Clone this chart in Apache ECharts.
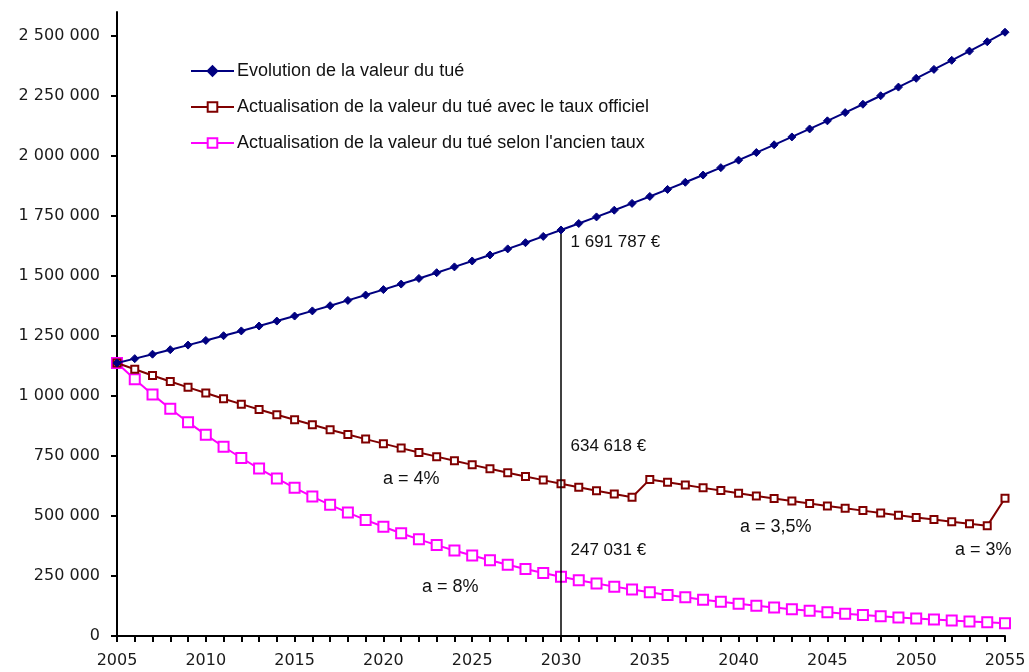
<!DOCTYPE html>
<html>
<head>
<meta charset="utf-8">
<script src="https://cdn.jsdelivr.net/npm/echarts@6/dist/echarts.min.js"></script>
<style>
  html, body { margin: 0; padding: 0; background: #fff; }
  #chart { width: 1029px; height: 672px; }
</style>
</head>
<body>
<div id="chart"></div>
<script>
// Years 2005 .. 2055
const years = [];
for (let y = 2005; y <= 2055; y++) years.push(y);

const xTickLabels = [2005, 2010, 2015, 2020, 2025, 2030, 2035, 2040, 2045, 2050, 2055];
const yTickValues = [0, 250000, 500000, 750000, 1000000, 1250000, 1500000, 1750000, 2000000, 2250000, 2500000];

const seriesNames = [
  'Evolution de la valeur du tué',
  'Actualisation de la valeur du tué avec le taux officiel',
  'Actualisation de la valeur du tué selon l\'ancien taux'
];

// Valeur du tué (€)
const valeurTue = [
  1137500, 1155700, 1174200, 1193000, 1212100, 1231500, 1251200, 1271200, 1291600, 1312200,
  1333200, 1354600, 1376200, 1398300, 1420600, 1443400, 1466400, 1489900, 1513800, 1538000,
  1562600, 1587600, 1613000, 1638800, 1665000, 1691787, 1718800, 1746200, 1774200, 1802600,
  1831400, 1860700, 1890500, 1920700, 1951500, 1982700, 2014400, 2046700, 2079400, 2112700,
  2146500, 2180800, 2215700, 2251100, 2287100, 2323700, 2360900, 2398700, 2437000, 2476000,
  2515700
];

// Valeur actualisée, taux officiel (4 %, puis 3,5 %, puis 3 %)
const actuOfficiel = [
  1137500, 1111300, 1085600, 1060600, 1036100, 1012200, 988800, 966000, 943800, 921900,
  900700, 879900, 859600, 839800, 820400, 801500, 782900, 764900, 747300, 730000,
  713100, 696700, 680600, 664900, 649500, 634618, 620000, 605600, 591700, 578000,
  652500, 640500, 628800, 617200, 605900, 594800, 583800, 573100, 562600, 552300,
  542100, 532200, 522400, 512800, 503400, 494200, 485100, 476200, 467400, 458900,
  573900
];

// Valeur actualisée, ancien taux (8 %)
const actuAncien = [
  1137500, 1070100, 1006700, 947000, 890900, 838100, 788500, 741700, 697800, 656400,
  617500, 581000, 546500, 514100, 483700, 455000, 428000, 402700, 378800, 356400,
  335300, 315400, 296700, 279100, 262600, 247031, 232400, 218600, 205700, 193500,
  182000, 171200, 161100, 151500, 142500, 134100, 126100, 118700, 111600, 105000,
  98800, 92900, 87400, 82300, 77400, 72800, 68500, 64400, 60600, 57000,
  53600
];

const markYear = 2030;
const rateNotes = [
  { text: 'a = 4%', x: 383, y: 480 },
  { text: 'a = 8%', x: 422, y: 588 },
  { text: 'a = 3,5%', x: 740, y: 528 },
  { text: 'a = 3%', x: 955, y: 551 }
];

const FONT = '"Liberation Sans", Arial, sans-serif';
const AXIS_FONT = '"DejaVu Sans", sans-serif';
const fmtNum = v => String(Math.round(v)).replace(/\B(?=(\d{3})+(?!\d))/g, ' ');
const pair = arr => years.map((y, i) => [y, arr[i]]);
const idx = years.indexOf(markYear);

function valueLabel(value, dy) {
  return {
    coord: [markYear, value],
    symbol: 'circle',
    symbolSize: 1,
    itemStyle: { color: 'transparent' },
    label: {
      show: true,
      formatter: fmtNum(value) + ' €',
      position: 'right',
      distance: 0,
      offset: [9, dy],
      color: '#111',
      fontSize: 17,
      fontFamily: FONT
    }
  };
}

const chart = echarts.init(document.getElementById('chart'), null, { renderer: 'canvas' });

chart.setOption({
  animation: false,
  backgroundColor: '#ffffff',
  grid: { left: 117, right: 24, top: 12, bottom: 36, containLabel: false },
  legend: {
    orient: 'vertical',
    left: 185,
    top: 57,
    itemWidth: 43,
    itemHeight: 12,
    itemGap: 18,
    textStyle: { fontSize: 18, color: '#111', fontFamily: FONT, padding: [0, 0, 0, -2] },
    data: seriesNames
  },
  xAxis: {
    type: 'value',
    min: 2005,
    max: 2055,
    interval: 1,
    axisLine: { show: true, onZero: false, lineStyle: { color: '#000', width: 2 } },
    axisTick: { show: true, length: 6, lineStyle: { color: '#000', width: 2 } },
    splitLine: { show: false },
    axisLabel: {
      customValues: xTickLabels,
      margin: 17,
      fontSize: 16,
      color: '#1a1a1a',
      fontFamily: AXIS_FONT,
      formatter: v => String(v)
    }
  },
  yAxis: {
    type: 'value',
    min: 0,
    max: 2600000,
    interval: 250000,
    axisLine: { show: true, lineStyle: { color: '#000', width: 2 } },
    axisTick: { show: true, length: 6, customValues: yTickValues, lineStyle: { color: '#000', width: 2 } },
    splitLine: { show: false },
    axisLabel: {
      customValues: yTickValues,
      margin: 17,
      fontSize: 16,
      color: '#1a1a1a',
      fontFamily: AXIS_FONT,
      formatter: v => fmtNum(v)
    }
  },
  series: [
    {
      name: seriesNames[2],
      type: 'line',
      data: pair(actuAncien),
      symbol: 'rect',
      symbolSize: 10,
      itemStyle: { color: '#fff', borderColor: '#ff00ff', borderWidth: 2 },
      lineStyle: { color: '#ff00ff', width: 2 },
      z: 3,
      markPoint: { silent: true, data: [valueLabel(actuAncien[idx], -26)] }
    },
    {
      name: seriesNames[1],
      type: 'line',
      data: pair(actuOfficiel),
      symbol: 'rect',
      symbolSize: 7,
      itemStyle: { color: '#fff', borderColor: '#800000', borderWidth: 2 },
      lineStyle: { color: '#800000', width: 2 },
      z: 4,
      markPoint: { silent: true, data: [valueLabel(actuOfficiel[idx], -37)] }
    },
    {
      name: seriesNames[0],
      type: 'line',
      data: pair(valeurTue),
      symbol: 'diamond',
      symbolSize: 8,
      itemStyle: { color: '#000080', borderColor: '#000080', borderWidth: 1 },
      lineStyle: { color: '#000080', width: 2 },
      z: 5,
      markLine: {
        silent: true,
        symbol: 'none',
        label: { show: false },
        lineStyle: { color: '#000', width: 1.5, type: 'solid' },
        data: [[{ coord: [markYear, 0] }, { coord: [markYear, valeurTue[idx]] }]]
      },
      markPoint: { silent: true, data: [valueLabel(valeurTue[idx], 12)] }
    }
  ],
  graphic: rateNotes.map(n => ({
    type: 'text',
    left: n.x,
    top: n.y - 10,
    style: { text: n.text, fill: '#111', font: '18px ' + FONT }
  }))
});
</script>
</body>
</html>
